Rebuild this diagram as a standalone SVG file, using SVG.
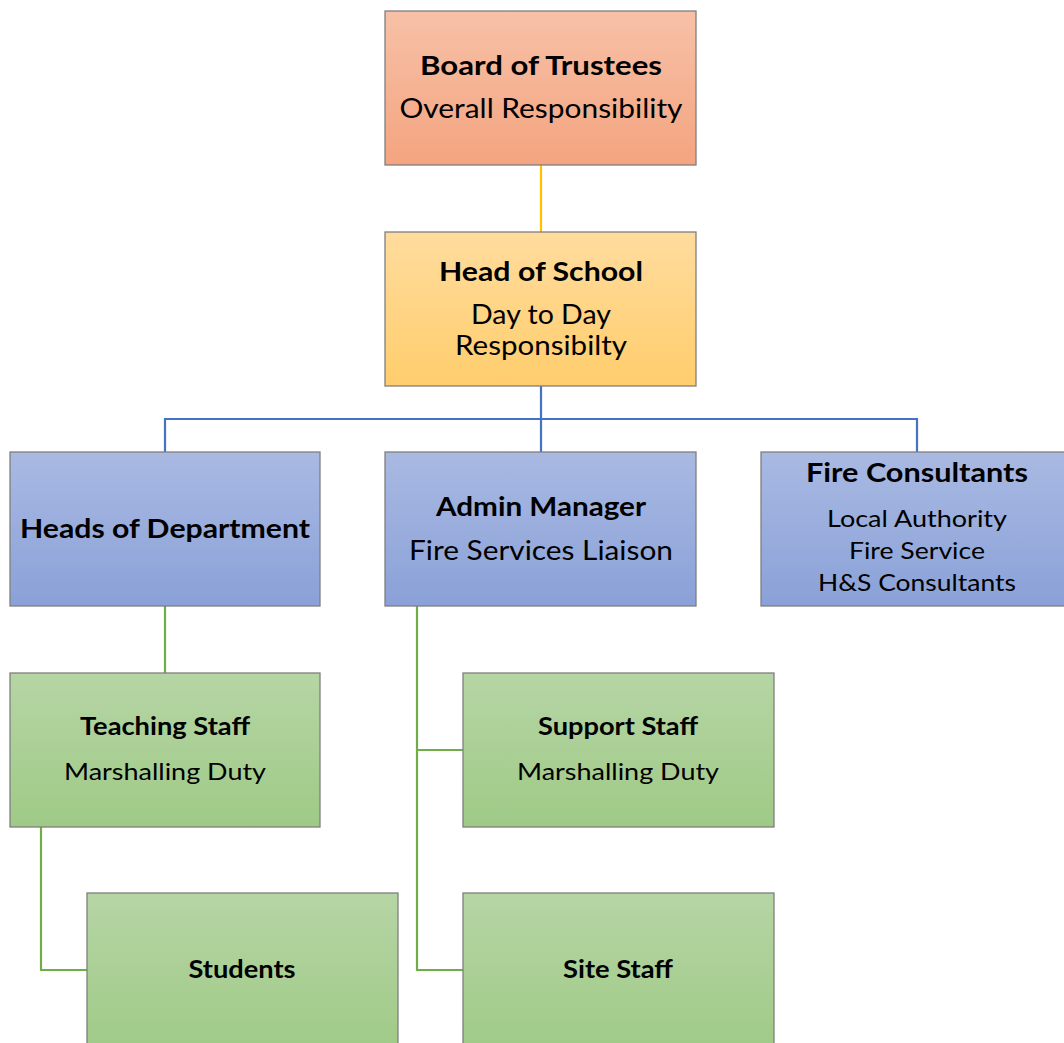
<svg xmlns="http://www.w3.org/2000/svg" width="1064" height="1043" viewBox="0 0 1064 1043">
<defs>
<linearGradient id="gOrange" x1="0" y1="0" x2="0" y2="1"><stop offset="0" stop-color="#F7C1A7"/><stop offset="1" stop-color="#F4A480"/></linearGradient>
<linearGradient id="gYellow" x1="0" y1="0" x2="0" y2="1"><stop offset="0" stop-color="#FFDC9E"/><stop offset="1" stop-color="#FFCD6C"/></linearGradient>
<linearGradient id="gBlue" x1="0" y1="0" x2="0" y2="1"><stop offset="0" stop-color="#A9B9E2"/><stop offset="1" stop-color="#8AA1D8"/></linearGradient>
<linearGradient id="gGreen" x1="0" y1="0" x2="0" y2="1"><stop offset="0" stop-color="#B6D5A5"/><stop offset="1" stop-color="#9FCA86"/></linearGradient>
</defs>
<style>
rect.box{stroke:#7F7F7F;stroke-width:1.3}
text{font-family:Lato,"Open Sans","Liberation Sans",sans-serif;fill:#000;text-anchor:middle}
.b{font-weight:bold}
.l{font-size:27px}
.m{font-size:24px}
.c line,.c path{fill:none;stroke-width:2.2}
</style>
<rect width="1064" height="1043" fill="#FFFFFF"/>
<g class="c" id="connectors">
<line x1="541" y1="165" x2="541" y2="232" stroke="#FFC000"/>
<path d="M541 386V452M165 452V419H917V452" stroke="#4472C4"/>
<line x1="165" y1="606" x2="165" y2="673" stroke="#70AD47"/>
<path d="M41 827V970H87" stroke="#70AD47"/>
<path d="M417 606V970H463M417 750H463" stroke="#70AD47"/>
</g>
<g id="board"><rect class="box" x="385" y="11" width="311" height="154" fill="url(#gOrange)"/>
<text x="541" y="75" class="b l" textLength="242" lengthAdjust="spacingAndGlyphs">Board of Trustees</text>
<text x="541" y="118" class="l" textLength="283" lengthAdjust="spacingAndGlyphs">Overall Responsibility</text></g>
<g id="head"><rect class="box" x="385" y="232" width="311" height="154" fill="url(#gYellow)"/>
<text x="541" y="281" class="b l" textLength="204" lengthAdjust="spacingAndGlyphs">Head of School</text>
<text x="541" y="324" class="l" textLength="140" lengthAdjust="spacingAndGlyphs">Day to Day</text>
<text x="541" y="355" class="l" textLength="172" lengthAdjust="spacingAndGlyphs">Responsibilty</text></g>
<g id="hod"><rect class="box" x="10" y="452" width="310" height="154" fill="url(#gBlue)"/>
<text x="165" y="538" class="b l" textLength="290" lengthAdjust="spacingAndGlyphs">Heads of Department</text></g>
<g id="admin"><rect class="box" x="385" y="452" width="311" height="154" fill="url(#gBlue)"/>
<text x="541" y="516" class="b l" textLength="210" lengthAdjust="spacingAndGlyphs">Admin Manager</text>
<text x="541" y="560" class="l" textLength="264" lengthAdjust="spacingAndGlyphs">Fire Services Liaison</text></g>
<g id="fire"><rect class="box" x="761" y="452" width="311" height="154" fill="url(#gBlue)"/>
<text x="917" y="482" class="b l" textLength="222" lengthAdjust="spacingAndGlyphs">Fire Consultants</text>
<text x="917" y="527" class="m" textLength="180" lengthAdjust="spacingAndGlyphs">Local Authority</text>
<text x="917" y="559" class="m" textLength="136" lengthAdjust="spacingAndGlyphs">Fire Service</text>
<text x="917" y="591" class="m" textLength="198" lengthAdjust="spacingAndGlyphs">H&amp;S Consultants</text></g>
<g id="teaching"><rect class="box" x="10" y="673" width="310" height="154" fill="url(#gGreen)"/>
<text x="165" y="735" class="b m" textLength="170" lengthAdjust="spacingAndGlyphs">Teaching Staff</text>
<text x="165" y="780" class="m" textLength="202" lengthAdjust="spacingAndGlyphs">Marshalling Duty</text></g>
<g id="support"><rect class="box" x="463" y="673" width="311" height="154" fill="url(#gGreen)"/>
<text x="618" y="735" class="b m" textLength="160" lengthAdjust="spacingAndGlyphs">Support Staff</text>
<text x="618" y="780" class="m" textLength="202" lengthAdjust="spacingAndGlyphs">Marshalling Duty</text></g>
<g id="students"><rect class="box" x="87" y="893" width="311" height="160" fill="url(#gGreen)"/>
<text x="242" y="978" class="b m" textLength="107" lengthAdjust="spacingAndGlyphs">Students</text></g>
<g id="site"><rect class="box" x="463" y="893" width="311" height="160" fill="url(#gGreen)"/>
<text x="618" y="978" class="b m" textLength="110" lengthAdjust="spacingAndGlyphs">Site Staff</text></g>
</svg>
